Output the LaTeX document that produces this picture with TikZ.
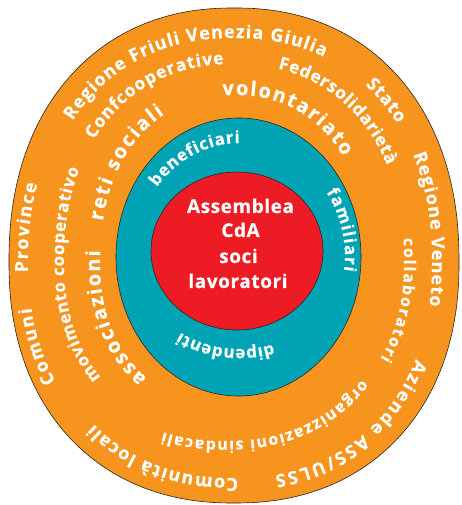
\documentclass[tikz,border=0pt]{standalone}
\usepackage{fontspec}
\setmainfont{Open Sans}[BoldFeatures={FakeBold=0.3}]
\usetikzlibrary{decorations.text}
\definecolor{orng}{HTML}{F7941E}
\definecolor{tealc}{HTML}{00A3B4}
\definecolor{redc}{HTML}{ED1C24}
\newcommand\fA{\color{white}\bfseries\fontsize{18}{18}\selectfont}
\newcommand\fAb{\color{white}\bfseries\fontsize{17.5}{17.5}\selectfont}
\newcommand\fM{\color{white}\bfseries\fontsize{17}{17}\selectfont}
\newcommand\fB{\color{white}\bfseries\fontsize{16}{16}\selectfont}
\newcommand\fC{\color{white}\bfseries\fontsize{20}{20}\selectfont}
\newcommand\fT{\color{white}\bfseries\fontsize{17}{17}\selectfont}
\tikzset{
  declare function={
    sx(\qa,\qb)=(cos(\qa)<0?-1:1)*max(abs(cos(\qa)),0.00001)^\qb;
    sy(\qa,\qb)=(sin(\qa)<0?-1:1)*max(abs(sin(\qa)),0.00001)^\qb;
  },
  ring/.style={draw=black!85,line width=0.6pt},
  ctext/.style={text=white,font=\bfseries\fontsize{19}{19}\selectfont\addfontfeature{LetterSpace=3},anchor=base,inner sep=0pt}
}
% cx cy rx ryt ryb exponent t1 t2 text
\newcommand\ringtext[9]{%
  \path[decorate,decoration={text along path,text align=fit to path,text={#9}}]
    plot[domain=0:1,samples=120,variable=\x]
    ({#1+#3*sx((#7)+((#8)-(#7))*\x,#6)},{#2+(sin((#7)+((#8)-(#7))*\x)<0?#5:#4)*sy((#7)+((#8)-(#7))*\x,#6)});
}
\begin{document}
\begin{tikzpicture}[x=1pt,y=1pt]
\useasboundingbox (0,0) rectangle (461,505);
% outer egg
\filldraw[ring,fill=orng] plot[domain=0.5:360.5,samples=241,variable=\x]
  ({234+225*sx(\x,0.909)},{243+(sin(\x)<0?241:254)*sy(\x,0.909)}) -- cycle;
% teal
\filldraw[ring,fill=tealc] (238.5,248) ellipse[x radius=122.5pt,y radius=139pt];
% red
\filldraw[ring,fill=redc] (237,254) ellipse[x radius=86pt,y radius=79pt];
% centre texts
\node[ctext] (assemblea) at (240.5,292) {Assemblea};
\node[ctext] (cda) at (240.5,268) {CdA};
\node[ctext] (soci) at (238.5,242) {soci};
\node[ctext] (lavoratori) at (238,217) {lavoratori};
% ring A
\ringtext{234}{243}{198}{224}{216}{0.909}{143}{65}{|\fA|Regione Friuli Venezia Giulia}
\ringtext{234}{243}{198}{224}{216}{0.909}{50.5}{36}{|\fA|Stato}
\ringtext{234}{243}{198}{224}{216}{0.909}{26.5}{-10}{|\fA|Regione Veneto}
\ringtext{234}{243}{198}{224}{216}{0.909}{-24.5}{-80}{|\fA|Aziende ASS/ULSS}
\ringtext{234}{243}{198}{224}{216}{0.909}{-89.2}{-133.2}{|\fA|Comunità locali}
\ringtext{234}{243}{206}{224}{216}{0.909}{211.4}{190.4}{|\fA|Comuni}
\ringtext{234}{243}{206}{224}{216}{0.909}{182}{161.7}{|\fA|Province}
% ring B
\ringtext{234}{243}{170}{198}{172}{0.909}{143.9}{92.5}{|\fAb|Confcooperative}
\ringtext{234}{243}{170}{198}{172}{0.909}{77}{27}{|\fAb|Federsolidarietà}
\ringtext{234}{243}{170}{198}{172}{0.909}{5.6}{-32.1}{|\fB|collaboratori}
\ringtext{225}{243}{172}{198}{179}{0.909}{-39}{-109}{|\fB|organizzazioni sindacali}
\ringtext{234}{243}{170}{198}{172}{0.909}{220.1}{154.1}{|\fM|movimento cooperativo}
% ring C
\ringtext{234}{243}{134}{167}{145}{0.909}{167.7}{119}{|\fC|reti sociali}
\ringtext{234}{243}{134}{167}{145}{0.909}{93.7}{37}{|\fC|volontariato}
\ringtext{234}{243}{134}{167}{145}{0.909}{231.5}{176.9}{|\fC|associazioni}
% teal ring
\ringtext{240}{248}{105}{114}{92}{1}{142.2}{90}{|\fT|beneficiari}
\ringtext{240}{248}{105}{114}{92}{1}{34.7}{-8.7}{|\fT|familiari}
\ringtext{240}{248}{105}{114}{92}{1}{-71.7}{-124.8}{|\fT|dipendenti}
\end{tikzpicture}
\end{document}
